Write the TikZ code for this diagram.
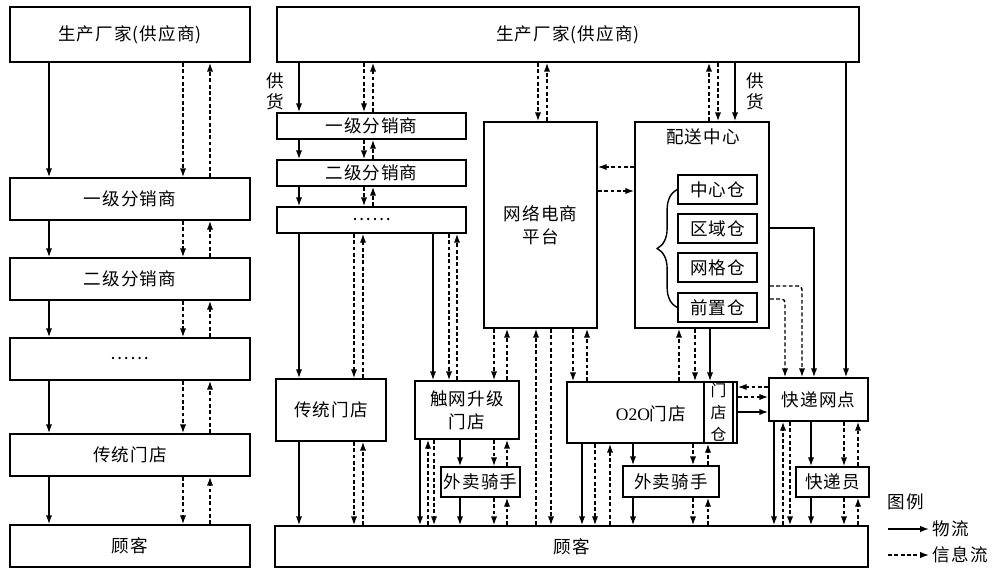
\documentclass[tikz,border=0pt]{standalone}
\usepackage{fontspec}
\setmainfont{Noto Sans CJK SC}[LetterSpace=6]
\newfontfamily\latinserif{Liberation Serif}
\usetikzlibrary{arrows.meta,fit,decorations.pathreplacing}
\newcommand\adn[4]{\draw[#1] (#2.south -| #4,0) -- (#3.north -| #4,0);}
\newcommand\aup[4]{\draw[#1] (#2.north -| #4,0) -- (#3.south -| #4,0);}
\newcommand\bx[6]{\node[box,fit={(#2,#3)(#4,#5)}] (#1) {};\node[lbl] (#1t) at (#1.center) {#6};}
\begin{document}
\begin{tikzpicture}[x=0.02cm,y=-0.02cm,
  font=\fontsize{10}{13}\selectfont,
  box/.style={draw, line width=1pt, inner sep=0pt},
  lbl/.style={align=center, inner sep=0pt},
  phys/.style={line width=0.8pt, -{Latex[length=5pt,width=3.6pt]}},
  info/.style={line width=0.8pt, dash pattern=on 2.2pt off 1.4pt, -{Latex[length=5pt,width=3.6pt]}},
  elb/.style={rounded corners=2pt}]
\useasboundingbox (0,0) rectangle (1000,577);

% ---------- left diagram ----------
\bx{L0}{10}{7}{250}{62}{生产厂家(供应商)}
\bx{L1}{10}{178}{250}{220}{一级分销商}
\bx{L2}{10}{258}{250}{300}{二级分销商}
\bx{L3}{10}{338}{250}{380}{……}
\bx{L4}{10}{434}{250}{476}{传统门店}
\bx{L5}{10}{525}{250}{567}{顾客}
\foreach \a/\b in {L0/L1,L1/L2,L2/L3,L3/L4,L4/L5}{
  \adn{phys}{\a}{\b}{49}
  \adn{info}{\a}{\b}{183}
  \aup{info}{\b}{\a}{210}
}

% ---------- right diagram ----------
\bx{R0}{277}{7}{859}{62}{生产厂家(供应商)}
\bx{R1}{277}{113}{466}{139}{一级分销商}
\bx{R2}{277}{160}{466}{186}{二级分销商}
\bx{R3}{277}{207}{466}{233}{……}
\bx{TS}{276}{379}{386}{441}{传统门店}
\bx{CW}{415}{381}{519}{439}{触网升级\\门店}
\bx{PF}{484}{122}{597}{328}{网络电商\\平台}
\node[box,fit={(635,122)(769,328)}] (DC) {};
\node (DCt) at (703,137) {配送中心};
\bx{ZX}{678}{175}{757}{204}{中心仓}
\bx{QY}{678}{214}{757}{243}{区域仓}
\bx{WG}{678}{253}{757}{282}{网格仓}
\bx{QZ}{678}{293}{757}{322}{前置仓}
\node[box,fit={(567,382)(737,443)}] (O2O) {};
\node[box,fit={(704,382)(733,443)}] (MD) {};
\node[lbl,font=\fontsize{9}{12.5}\selectfont] (MDt) at (MD.center) {门\\店\\仓};
\node (o2ot) at (651,414) {{\latinserif O2O}门店};
\bx{WM1}{441}{467}{520}{497}{外卖骑手}
\bx{WM2}{623}{466}{719}{497}{外卖骑手}
\bx{KD}{769}{378}{868}{421}{快递网点}
\bx{KY}{796}{467}{869}{497}{快递员}
\bx{RC}{275}{526}{868}{567}{顾客}
\node[align=center,font=\fontsize{10}{12}\selectfont] (gh1) at (275,91) {供\\货};
\node[align=center,font=\fontsize{10}{12}\selectfont] (gh2) at (755,91) {供\\货};

% brace
\draw[line width=0.8pt, decorate, decoration={brace, amplitude=0.4cm}] (QZ.west) -- (ZX.west);

% distributors chain
\foreach \a/\b in {R0/R1,R1/R2,R2/R3}{
  \adn{phys}{\a}{\b}{299}
  \adn{info}{\a}{\b}{364}
  \aup{info}{\b}{\a}{373}
}
\adn{phys}{R3}{TS}{299} \adn{info}{R3}{TS}{354} \aup{info}{TS}{R3}{363}
\adn{phys}{TS}{RC}{299} \adn{info}{TS}{RC}{354} \aup{info}{RC}{TS}{363}
\adn{phys}{R3}{CW}{433} \adn{info}{R3}{CW}{449} \aup{info}{CW}{R3}{457}

% platform
\adn{info}{R0}{PF}{538} \aup{info}{PF}{R0}{547}
\adn{info}{PF}{CW}{494} \aup{info}{CW}{PF}{507}
\aup{info}{RC}{PF}{536} \adn{info}{PF}{RC}{551}
\adn{info}{PF}{O2O}{573} \aup{info}{O2O}{PF}{587}
\draw[info] (DC.west |- 0,167) -- (PF.east |- 0,167);
\draw[info] (PF.east |- 0,191) -- (DC.west |- 0,191);

% distribution centre
\aup{info}{DC}{R0}{709} \adn{info}{R0}{DC}{718} \adn{phys}{R0}{DC}{735}
\aup{info}{O2O}{DC}{679} \adn{info}{DC}{O2O}{695} \adn{phys}{DC}{O2O}{710}

% O2O and riders
\adn{phys}{O2O}{RC}{582} \adn{info}{O2O}{RC}{595} \aup{info}{RC}{O2O}{610}
\adn{phys}{CW}{WM1}{460} \adn{info}{CW}{WM1}{494} \aup{info}{WM1}{CW}{507}
\adn{phys}{WM1}{RC}{460} \adn{info}{WM1}{RC}{494} \aup{info}{RC}{WM1}{507}
\adn{phys}{CW}{RC}{420} \aup{info}{RC}{CW}{428} \adn{info}{CW}{RC}{434}
\adn{phys}{O2O}{WM2}{633} \adn{info}{O2O}{WM2}{693} \aup{info}{WM2}{O2O}{708}
\adn{phys}{WM2}{RC}{633} \adn{info}{WM2}{RC}{693} \aup{info}{RC}{WM2}{708}

% express
\adn{phys}{R0}{KD}{846}
\draw[phys] (DC.east |- 0,228) -| (KD.north -| 814,0);
\draw[info,elb] (DC.east |- 0,286) -| (KD.north -| 802,0);
\draw[info,elb] (DC.east |- 0,299) -| (KD.north -| 785,0);
\draw[info] (KD.west |- 0,387) -- (O2O.east |- 0,387);
\draw[info] (O2O.east |- 0,397) -- (KD.west |- 0,397);
\draw[phys] (O2O.east |- 0,412) -- (KD.west |- 0,412);
\adn{phys}{KD}{RC}{774} \aup{info}{RC}{KD}{783} \adn{info}{KD}{RC}{790}
\adn{phys}{KD}{KY}{811} \adn{info}{KD}{KY}{844} \aup{info}{KY}{KD}{858}
\adn{phys}{KY}{RC}{811} \adn{info}{KY}{RC}{844} \aup{info}{RC}{KY}{858}

% legend
\node (lgh) at (906,502) {图例};
\node[anchor=west,inner sep=2pt] (lgt1) at (929,529) {物流};
\node[anchor=west,inner sep=2pt] (lgt2) at (929,555) {信息流};
\coordinate (lg1) at (888,529);
\coordinate (lg2) at (888,555);
\draw[phys] (lg1) -- (lgt1.west);
\draw[info] (lg2) -- (lgt2.west);
\end{tikzpicture}
\end{document}
